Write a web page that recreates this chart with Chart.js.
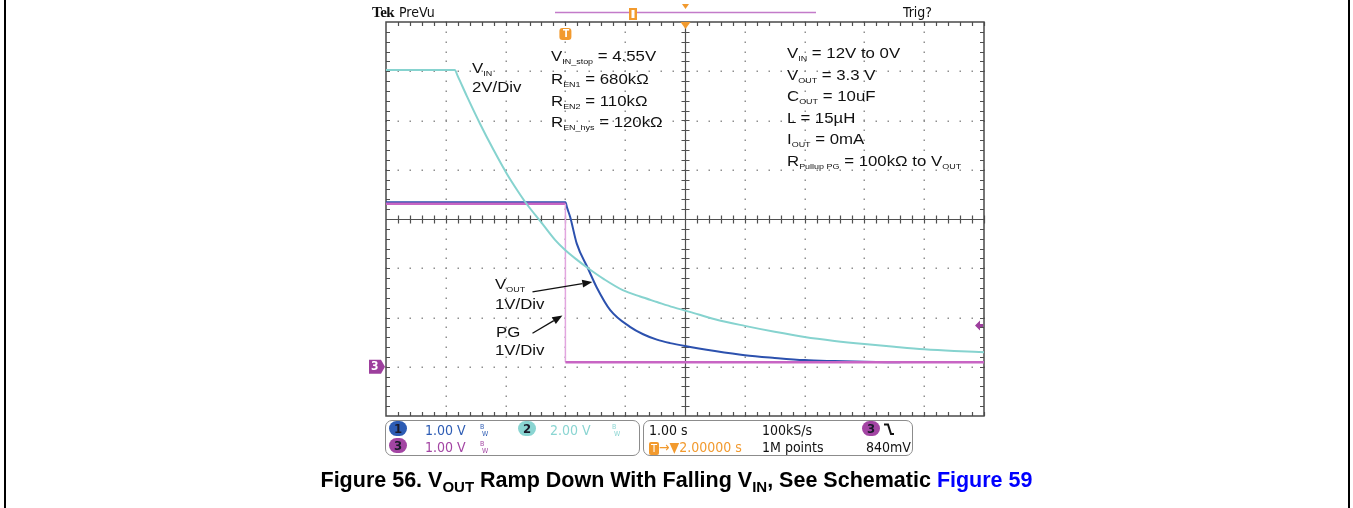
<!DOCTYPE html>
<html>
<head>
<meta charset="utf-8">
<script src="https://cdn.jsdelivr.net/npm/chart.js@4.4.1/dist/chart.umd.min.js"></script>
<style>
html, body { margin: 0; padding: 0; background: #fff; }
#wrap { position: relative; width: 1353px; height: 508px; overflow: hidden; }
#scope { position: absolute; left: 0; top: 0; }
.edge { position: absolute; top: 0; width: 2px; height: 508px; background: #000; }
.t { position: absolute; font-family: "Liberation Sans", Arial, sans-serif; font-size: 15px; line-height: 15px; color: #111; white-space: nowrap; transform: scaleX(1.12); transform-origin: 0 0; }
.t sub { font-size: 8px; line-height: 0; vertical-align: -3px; }
.tek { position: absolute; font-family: "DejaVu Sans Condensed", "DejaVu Sans", sans-serif; font-size: 14px; line-height: 14px; color: #111; white-space: nowrap; }
.box { position: absolute; top: 420px; height: 34px; border: 1.5px solid #8c8c8c; border-radius: 7px; }
.pill { position: absolute; width: 18px; height: 15px; border-radius: 8px; text-align: center; font-family: "DejaVu Sans Condensed", sans-serif; font-weight: bold; font-size: 13px; line-height: 15px; color: #1a1a2a; }
.bw { position: absolute; font-family: "DejaVu Sans Condensed", sans-serif; font-size: 7px; line-height: 7px; }
.cap { position: absolute; left: 0; width: 1353px; top: 470px; text-align: center; font-family: "Liberation Sans", Arial, sans-serif; font-weight: bold; font-size: 21.5px; line-height: 21px; color: #000; }
.cap sub { font-size: 15px; line-height: 0; vertical-align: -5px; }
</style>
</head>
<body>
<div id="wrap">
  <canvas id="scope" width="1353" height="508"></canvas>
  <div class="edge" style="left:4px"></div>
  <div class="edge" style="left:1348px"></div>

  <!-- scope header -->
  <div class="t" style="left:372px;top:5px;font-family:'Liberation Serif',serif;font-weight:bold;font-size:15px;letter-spacing:-0.5px;transform:none">Tek</div>
  <div class="tek" style="left:399px;top:5px">PreVu</div>
  <div class="tek" style="left:903px;top:5px">Trig?</div>

  <!-- annotations -->
  <div class="t" style="left:472px;top:60px">V<sub>IN</sub></div>
  <div class="t" style="left:472px;top:79px">2V/Div</div>

  <div class="t" style="left:551px;top:48px">V<sub>IN_stop</sub> = 4.55V</div>
  <div class="t" style="left:551px;top:71px">R<sub>EN1</sub> = 680kΩ</div>
  <div class="t" style="left:551px;top:93px">R<sub>EN2</sub> = 110kΩ</div>
  <div class="t" style="left:551px;top:114px">R<sub>EN_hys</sub> = 120kΩ</div>

  <div class="t" style="left:787px;top:45px">V<sub>IN</sub> = 12V to 0V</div>
  <div class="t" style="left:787px;top:67px">V<sub>OUT</sub> = 3.3 V</div>
  <div class="t" style="left:787px;top:88px">C<sub>OUT</sub> = 10uF</div>
  <div class="t" style="left:787px;top:110px">L = 15µH</div>
  <div class="t" style="left:787px;top:131px">I<sub>OUT</sub> = 0mA</div>
  <div class="t" style="left:787px;top:153px">R<sub>Pullup PG</sub> = 100kΩ to V<sub>OUT</sub></div>

  <div class="t" style="left:495px;top:276px">V<sub>OUT</sub></div>
  <div class="t" style="left:495px;top:296px">1V/Div</div>
  <div class="t" style="left:496px;top:324px">PG</div>
  <div class="t" style="left:495px;top:342px">1V/Div</div>

  <!-- markers with text -->
  <div class="tek" style="left:371px;top:359px;color:#fff;font-weight:bold;font-size:12px">3</div>
  <div class="tek" style="left:563px;top:29px;color:#fff;font-weight:bold;font-size:10px;line-height:10px">T</div>

  <!-- readout boxes -->
  <div class="box" style="left:385px;width:253px"></div>
  <div class="box" style="left:643px;width:268px"></div>

  <div class="pill" style="left:389px;top:421px;background:#2d5cb4">1</div>
  <div class="tek" style="left:425px;top:423px;color:#2d5cb4">1.00 V</div>
  <div class="bw" style="left:480px;top:424px;color:#2d5cb4">B<br>&nbsp;W</div>
  <div class="pill" style="left:518px;top:421px;background:#8ad5d2">2</div>
  <div class="tek" style="left:550px;top:423px;color:#8ad5d2">2.00 V</div>
  <div class="bw" style="left:612px;top:424px;color:#8ad5d2">B<br>&nbsp;W</div>
  <div class="pill" style="left:389px;top:438px;background:#a345a3">3</div>
  <div class="tek" style="left:425px;top:440px;color:#a345a3">1.00 V</div>
  <div class="bw" style="left:480px;top:441px;color:#a345a3">B<br>&nbsp;W</div>

  <div class="tek" style="left:649px;top:423px">1.00 s</div>
  <div class="tek" style="left:762px;top:423px">100kS/s</div>
  <div class="pill" style="left:862px;top:421px;background:#a345a3">3</div>
  <div class="tek" style="left:649px;top:440px;color:#f29a2e"><span style="background:#f29a2e;color:#fff;font-size:11px;padding:0 2px;border-radius:2px">T</span>→▼2.00000 s</div>
  <div class="tek" style="left:762px;top:440px">1M points</div>
  <div class="tek" style="left:866px;top:440px">840mV</div>

  <div class="cap">Figure 56. V<sub>OUT</sub> Ramp Down With Falling V<sub>IN</sub>, See Schematic <span style="color:#0000ff">Figure 59</span></div>
</div>

<script>
// time base: 1 s/div, 10 divisions
// ch2 = VIN (2 V/div), ch1 = VOUT (1 V/div), ch3 = PG (1 V/div), all grounded 3 div below centre
const vinTime  = [0, 1.15, 1.2, 1.35, 1.57, 1.8, 2.02, 2.2, 2.35, 2.6, 2.83, 3.0, 3.2, 3.38, 3.65, 3.96, 4.25, 4.53, 4.8, 5.08, 5.5, 6.0, 6.5, 7.0, 7.5, 8.0, 8.5, 9.0, 9.5, 10];
const vinVolts = [12.05, 12.05, 11.8, 11.0, 9.88, 8.8, 7.84, 7.15, 6.62, 5.85, 5.14, 4.73, 4.33, 4.0, 3.55, 3.11, 2.85, 2.63, 2.42, 2.23, 1.93, 1.66, 1.42, 1.21, 1.05, 0.92, 0.81, 0.71, 0.64, 0.59];

const voutTime  = [0, 3.0, 3.03, 3.08, 3.19, 3.38, 3.52, 3.75, 4.08, 4.3, 4.53, 4.75, 5.0, 5.5, 6.0, 6.5, 7.0, 7.5, 8.0, 8.6];
const voutVolts = [3.34, 3.34, 3.22, 3.04, 2.5, 1.99, 1.62, 1.15, 0.81, 0.66, 0.55, 0.48, 0.42, 0.32, 0.235, 0.18, 0.135, 0.115, 0.10, 0.09];

const pgTime  = [0, 3.0, 3.0, 10];
const pgVolts = [3.31, 3.31, 0.09, 0.09];

const trigLevel = 0.84;   // ch3 trigger level, V
const trigTime = 3.0;     // trigger point on screen, s

function pts(ts, vs) {
    return ts.map(function (t, i) { return { x: t, y: vs[i] }; });
}

// oscilloscope graticule + markers
const graticule = {
    id: 'graticule',
    beforeDatasetsDraw(chart) {
        const ctx = chart.ctx;
        const a = chart.chartArea;
        const x = chart.scales.x, y = chart.scales.y1, y3 = chart.scales.y3;
        ctx.save();

        // dotted division lines
        ctx.fillStyle = '#8f8f8f';
        for (let i = 1; i < 10; i++) {
            if (i === 5) continue;
            const px = Math.round(x.getPixelForValue(i));
            for (let v = -1; v <= 7.001; v += 0.2) {
                ctx.fillRect(px - 0.5, Math.round(y.getPixelForValue(v)) - 0.5, 1.5, 1.5);
            }
        }
        for (let k = 0; k <= 6; k++) {
            if (k === 3) continue;
            const py = Math.round(y.getPixelForValue(k));
            for (let t = 0; t <= 10.001; t += 0.2) {
                ctx.fillRect(Math.round(x.getPixelForValue(t)) - 0.5, py - 0.5, 1.5, 1.5);
            }
        }

        // centre cross with minor ticks
        ctx.strokeStyle = '#505050';
        ctx.lineWidth = 1.2;
        const cx = Math.round(x.getPixelForValue(5)) + 0.5;
        const cy = Math.round(y.getPixelForValue(3)) + 0.5;
        ctx.beginPath();
        ctx.moveTo(a.left, cy); ctx.lineTo(a.right, cy);
        ctx.moveTo(cx, a.top); ctx.lineTo(cx, a.bottom);
        for (let t = 0.2; t < 10; t += 0.2) {
            const px = Math.round(x.getPixelForValue(t)) + 0.5;
            ctx.moveTo(px, cy - 4); ctx.lineTo(px, cy + 4);
            ctx.moveTo(px, a.top); ctx.lineTo(px, a.top + 4);
            ctx.moveTo(px, a.bottom); ctx.lineTo(px, a.bottom - 4);
        }
        for (let v = -0.8; v < 7; v += 0.2) {
            const py = Math.round(y.getPixelForValue(v)) + 0.5;
            ctx.moveTo(cx - 4, py); ctx.lineTo(cx + 4, py);
            ctx.moveTo(a.left, py); ctx.lineTo(a.left + 4, py);
            ctx.moveTo(a.right, py); ctx.lineTo(a.right - 4, py);
        }
        ctx.stroke();

        // frame
        ctx.lineWidth = 1.5;
        ctx.strokeStyle = '#4a4a4a';
        ctx.strokeRect(a.left, a.top, a.right - a.left, a.bottom - a.top);

        // ch3 ground marker
        const gy = y3.getPixelForValue(0);
        ctx.fillStyle = '#9d3f9d';
        ctx.beginPath();
        ctx.moveTo(a.left - 17, gy - 7);
        ctx.lineTo(a.left - 5, gy - 7);
        ctx.lineTo(a.left - 1, gy);
        ctx.lineTo(a.left - 5, gy + 7);
        ctx.lineTo(a.left - 17, gy + 7);
        ctx.closePath();
        ctx.fill();

        // trigger level arrow (right edge)
        const ty = y3.getPixelForValue(trigLevel);
        ctx.beginPath();
        ctx.moveTo(a.right - 9, ty);
        ctx.lineTo(a.right - 4, ty - 5);
        ctx.lineTo(a.right - 4, ty - 1.5);
        ctx.lineTo(a.right - 1, ty - 1.5);
        ctx.lineTo(a.right - 1, ty + 1.5);
        ctx.lineTo(a.right - 4, ty + 1.5);
        ctx.lineTo(a.right - 4, ty + 5);
        ctx.closePath();
        ctx.fill();

        // trigger point marker and centre marker (top)
        ctx.fillStyle = '#f29a2e';
        const tx = x.getPixelForValue(trigTime);
        ctx.beginPath();
        ctx.roundRect(tx - 6, a.top + 6, 12, 12, 3);
        ctx.fill();
        ctx.beginPath();
        ctx.moveTo(cx - 5, a.top); ctx.lineTo(cx + 5, a.top); ctx.lineTo(cx, a.top + 7);
        ctx.closePath();
        ctx.fill();
        ctx.beginPath();
        ctx.moveTo(cx - 3.5, 4); ctx.lineTo(cx + 3.5, 4); ctx.lineTo(cx, 9);
        ctx.closePath();
        ctx.fill();

        // record view bar
        ctx.strokeStyle = '#c37bc9';
        ctx.lineWidth = 1.5;
        ctx.beginPath();
        ctx.moveTo(555, 12.5); ctx.lineTo(816, 12.5);
        ctx.stroke();
        ctx.fillStyle = '#f29a2e';
        ctx.fillRect(629, 8, 8, 12);
        ctx.fillStyle = '#fff';
        ctx.fillRect(631.5, 10, 3, 8);

        // falling-edge trigger icon in readout
        ctx.strokeStyle = '#111';
        ctx.lineWidth = 2;
        ctx.beginPath();
        ctx.moveTo(884, 424.5); ctx.lineTo(888, 424.5); ctx.lineTo(891, 434); ctx.lineTo(894, 434);
        ctx.stroke();
        ctx.restore();
    },
    afterDatasetsDraw(chart) {
        const ctx = chart.ctx;
        const x = chart.scales.x, y1 = chart.scales.y1, y3 = chart.scales.y3;
        // annotation arrows: tail -> tip (data coordinates)
        const arrows = [
            [x.getPixelForValue(2.45), y1.getPixelForValue(1.52), x.getPixelForValue(3.45), y1.getPixelForValue(1.72)],
            [x.getPixelForValue(2.45), y3.getPixelForValue(0.68), x.getPixelForValue(2.95), y3.getPixelForValue(1.04)]
        ];
        ctx.save();
        ctx.strokeStyle = '#111';
        ctx.fillStyle = '#111';
        ctx.lineWidth = 1.3;
        arrows.forEach(function (ar) {
            const ang = Math.atan2(ar[3] - ar[1], ar[2] - ar[0]);
            const bx = ar[2] - 10 * Math.cos(ang), by = ar[3] - 10 * Math.sin(ang);
            ctx.beginPath();
            ctx.moveTo(ar[0], ar[1]); ctx.lineTo(bx, by);
            ctx.stroke();
            ctx.beginPath();
            ctx.moveTo(ar[2], ar[3]);
            ctx.lineTo(bx + 4 * Math.sin(ang), by - 4 * Math.cos(ang));
            ctx.lineTo(bx - 4 * Math.sin(ang), by + 4 * Math.cos(ang));
            ctx.closePath();
            ctx.fill();
        });
        ctx.restore();
    }
};

new Chart(document.getElementById('scope'), {
    type: 'line',
    data: {
        datasets: [
            {
                label: 'VIN',
                data: pts(vinTime, vinVolts),
                yAxisID: 'y2',
                borderColor: '#86d3cf',
                borderWidth: 2,
                pointRadius: 0,
                cubicInterpolationMode: 'monotone',
                order: 0
            },
            {
                label: 'PG',
                data: pts(pgTime, pgVolts),
                yAxisID: 'y3',
                borderColor: '#c865c4',
                borderWidth: 2.5,
                pointRadius: 0,
                tension: 0,
                order: 1,
                segment: {
                    borderColor: function (c) { return c.p0.parsed.x === c.p1.parsed.x ? '#e2a6df' : undefined; },
                    borderWidth: function (c) { return c.p0.parsed.x === c.p1.parsed.x ? 1.5 : undefined; }
                }
            },
            {
                label: 'VOUT',
                data: pts(voutTime, voutVolts),
                yAxisID: 'y1',
                borderColor: '#2c51ae',
                borderWidth: 2,
                pointRadius: 0,
                cubicInterpolationMode: 'monotone',
                order: 2
            }
        ]
    },
    options: {
        responsive: false,
        animation: false,
        events: [],
        layout: { padding: { left: 386, right: 369, top: 22, bottom: 92 } },
        plugins: { legend: { display: false }, tooltip: { enabled: false } },
        scales: {
            x: { type: 'linear', min: 0, max: 10, display: false },
            y1: { min: -1, max: 7, display: false },
            y2: { min: -2, max: 14, display: false },
            y3: { min: -1, max: 7, display: false }
        }
    },
    plugins: [graticule]
});
</script>
</body>
</html>
